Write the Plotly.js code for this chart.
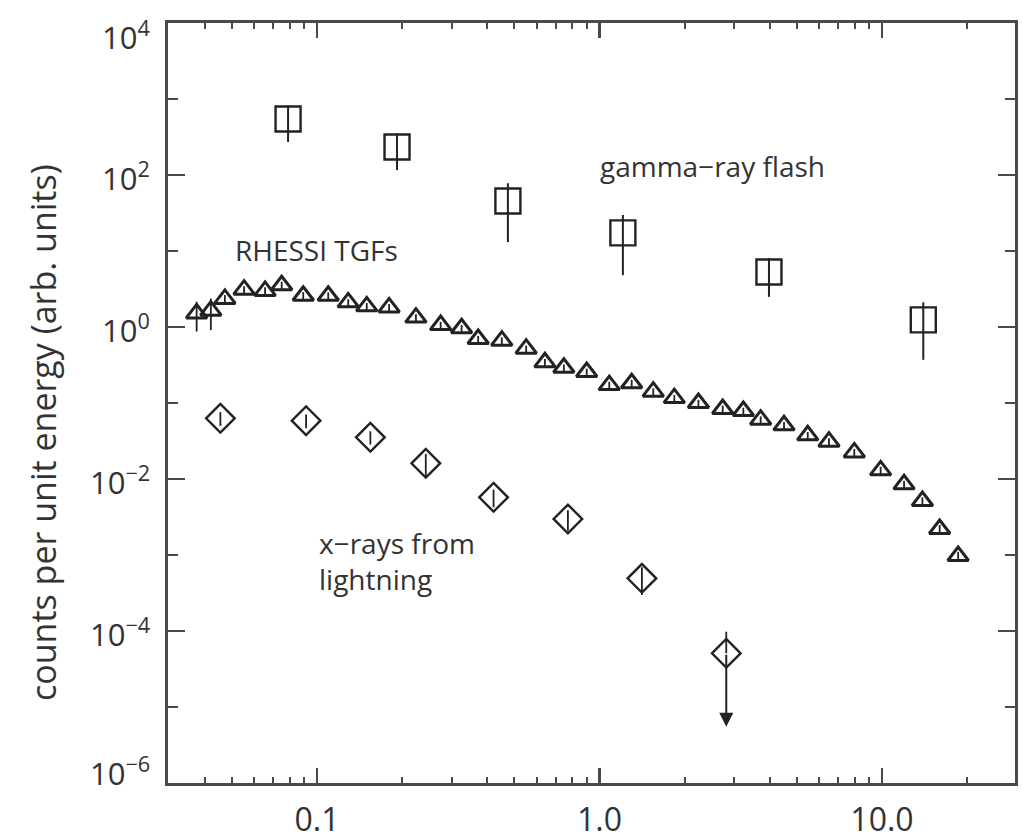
<!DOCTYPE html>
<html>
<head>
<meta charset="utf-8">
<script src="https://cdn.plot.ly/plotly-3.0.1.min.js"></script>
<style>html,body{margin:0;padding:0;background:#fff;}#chart{width:1023px;height:840px;}</style>
</head>
<body>
<div id="chart"></div>
<script>
// gamma-ray flash (squares)
const tgfFlashX = [0.079, 0.192, 0.474, 1.21, 3.98, 14.0];
const tgfFlashY = [546, 234, 45.5, 17.3, 5.29, 1.24];
const tgfFlashErr = [274, 118, 32.4, 12.5, 2.8, 0.87];

// RHESSI TGFs (triangles)
const rhessiX = [0.0375, 0.0421, 0.0472, 0.0552, 0.0655, 0.075, 0.0894, 0.1096, 0.129, 0.150,
  0.180, 0.224, 0.274, 0.325, 0.372, 0.451, 0.550, 0.641, 0.748, 0.901,
  1.083, 1.30, 1.55, 1.84, 2.24, 2.73, 3.23, 3.72, 4.50, 5.46,
  6.49, 7.98, 9.89, 11.97, 13.9, 16.0, 18.6];
const rhessiY = [1.51, 1.64, 2.34, 3.10, 2.98, 3.54, 2.58, 2.58, 2.11, 1.87,
  1.81, 1.33, 1.06, 0.962, 0.695, 0.661, 0.518, 0.343, 0.291, 0.256,
  0.172, 0.182, 0.141, 0.116, 0.100, 0.0834, 0.0785, 0.0603, 0.0509, 0.0376,
  0.031, 0.0224, 0.0130, 0.00851, 0.00514, 0.0022, 0.00097];
const rhessiErr = [0.64, 0.73, 0.3, 0.35, 0.35, 0.4, 0.3, 0.28, 0.22, 0.2,
  0.19, 0.14, 0.11, 0.1, 0.07, 0.07, 0.05, 0.035, 0.03, 0.027,
  0.018, 0.019, 0.015, 0.012, 0.01, 0.009, 0.008, 0.0065, 0.0055, 0.004,
  0.0034, 0.0025, 0.0015, 0.001, 0.0006, 0.00028, 0.00013];

// x-rays from lightning (diamonds)
const lightX = [0.0455, 0.0915, 0.1545, 0.2427, 0.4217, 0.773, 1.413, 2.81];
const lightY = [0.0629, 0.0585, 0.0354, 0.0161, 0.00574, 0.00298, 0.000493, 5.09e-5];
const lightErrPlus = [0.013, 0.012, 0.007, 0.0053, 0.0015, 0.0009, 0.000195, 4.7e-5];
const lightErrMinus = [0.013, 0.012, 0.007, 0.0053, 0.0015, 0.0009, 0.000195, 0];
// upper limit: arrow from last point down to this value
const lightLimitTo = 5.5e-6;

// ticks
const xTickVals = [0.1, 1, 10];
const xTickText = ['0.1', '1.0', '10.0'];
const xMinorVals = [0.04,0.05,0.06,0.07,0.08,0.09,0.2,0.3,0.4,0.5,0.6,0.7,0.8,0.9,2,3,4,5,6,7,8,9,20];
const yTickVals = [1e-6, 1e-4, 1e-2, 1, 1e2, 1e4];
const yTickText = ['10<sup>−6</sup>', '10<sup>−4</sup>', '10<sup>−2</sup>', '10<sup>0</sup>', '10<sup>2</sup>', '10<sup>4</sup>'];
const yMinorVals = [1e-5, 1e-3, 1e-1, 10, 1e3];

const ink = '#222';
const axisCol = '#4a4a4a';
const fontFam = 'Open Sans, Noto Sans, sans-serif';

const traces = [
  {
    x: rhessiX, y: rhessiY, type: 'scatter', mode: 'markers',
    marker: {symbol: 'triangle-up-open', size: 18, color: ink, line: {width: 3}},
    error_y: {type: 'data', array: rhessiErr, visible: true, width: 0, thickness: 1.8, color: ink},
    hoverinfo: 'x+y'
  },
  {
    x: tgfFlashX, y: tgfFlashY, type: 'scatter', mode: 'markers',
    marker: {symbol: 'square-open', size: 25, color: ink, line: {width: 2.4}},
    error_y: {type: 'data', array: tgfFlashErr, visible: true, width: 0, thickness: 2, color: ink},
    hoverinfo: 'x+y'
  },
  {
    x: lightX, y: lightY, type: 'scatter', mode: 'markers',
    marker: {symbol: 'diamond-open', size: 22, color: ink, line: {width: 2.4}},
    error_y: {type: 'data', symmetric: false, array: lightErrPlus, arrayminus: lightErrMinus, visible: true, width: 0, thickness: 1.8, color: ink},
    hoverinfo: 'x+y'
  }
];

const lastI = lightX.length - 1;
const annFont = {family: fontFam, size: 28, color: '#333'};

// y tick labels drawn as annotations so the end labels can be nudged inside the frame like the original
const yLabelAnns = yTickVals.map((v, i) => ({
  xref: 'paper', yref: 'y', x: -0.0189, y: Math.log10(v), text: yTickText[i],
  showarrow: false, xanchor: 'right', yanchor: 'middle',
  yshift: (i === yTickVals.length - 1) ? -12 : (i === 0 ? 12 : -1),
  font: {family: fontFam, size: 31, color: '#333'}
}));

const layout = {
  width: 1023, height: 840,
  margin: {l: 168, r: 8, t: 23, b: 57},
  paper_bgcolor: '#fff', plot_bgcolor: '#fff',
  showlegend: false,
  font: {family: fontFam, color: '#333'},
  xaxis: {
    type: 'log', range: [-1.5274, 1.4708],
    tickmode: 'array', tickvals: xTickVals, ticktext: xTickText,
    ticks: 'inside', ticklen: 15, tickwidth: 2.2, tickcolor: axisCol,
    showline: true, linecolor: axisCol, linewidth: 2.6, mirror: 'ticks',
    showgrid: false, zeroline: false,
    tickfont: {family: fontFam, size: 32, color: '#333'},
    ticklabelstandoff: 7, ticklabeloverflow: 'allow',
    minor: {tickmode: 'array', tickvals: xMinorVals, ticks: 'inside', ticklen: 6, tickwidth: 2, tickcolor: axisCol, showgrid: false}
  },
  yaxis: {
    type: 'log', range: [-6, 4],
    tickmode: 'array', tickvals: yTickVals, ticktext: yTickText,
    showticklabels: false,
    ticks: 'inside', ticklen: 17, tickwidth: 2.2, tickcolor: axisCol,
    showline: true, linecolor: axisCol, linewidth: 2.6, mirror: 'ticks',
    showgrid: false, zeroline: false,
    minor: {tickmode: 'array', tickvals: yMinorVals, ticks: 'inside', ticklen: 10, tickwidth: 2, tickcolor: axisCol, showgrid: false}
  },
  annotations: yLabelAnns.concat([
    {xref: 'paper', yref: 'paper', x: -0.1476, y: 0.4618, text: 'counts per unit energy (arb. units)', textangle: -90,
     showarrow: false, xanchor: 'center', yanchor: 'middle', font: {family: fontFam, size: 34, color: '#333'}},
    {xref: 'paper', yref: 'paper', x: 0.5077, y: 0.8118, text: 'gamma−ray flash', showarrow: false, xanchor: 'left', yanchor: 'middle', font: annFont},
    {xref: 'paper', yref: 'paper', x: 0.0767, y: 0.7013, text: 'RHESSI TGFs', showarrow: false, xanchor: 'left', yanchor: 'middle', font: annFont},
    {xref: 'paper', yref: 'paper', x: 0.1759, y: 0.2921, text: 'x−rays from<br>lightning', align: 'left', showarrow: false, xanchor: 'left', yanchor: 'middle', font: annFont},
    {xref: 'x', yref: 'y', x: Math.log10(lightX[lastI]), y: Math.log10(lightLimitTo),
     axref: 'x', ayref: 'y', ax: Math.log10(lightX[lastI]), ay: Math.log10(lightY[lastI]),
     showarrow: true, arrowhead: 2, arrowsize: 1.4, arrowwidth: 2, arrowcolor: ink, standoff: 0, startstandoff: 0, text: ''}
  ])
};

Plotly.newPlot('chart', traces, layout, {staticPlot: true, displayModeBar: false});
</script>
</body>
</html>
